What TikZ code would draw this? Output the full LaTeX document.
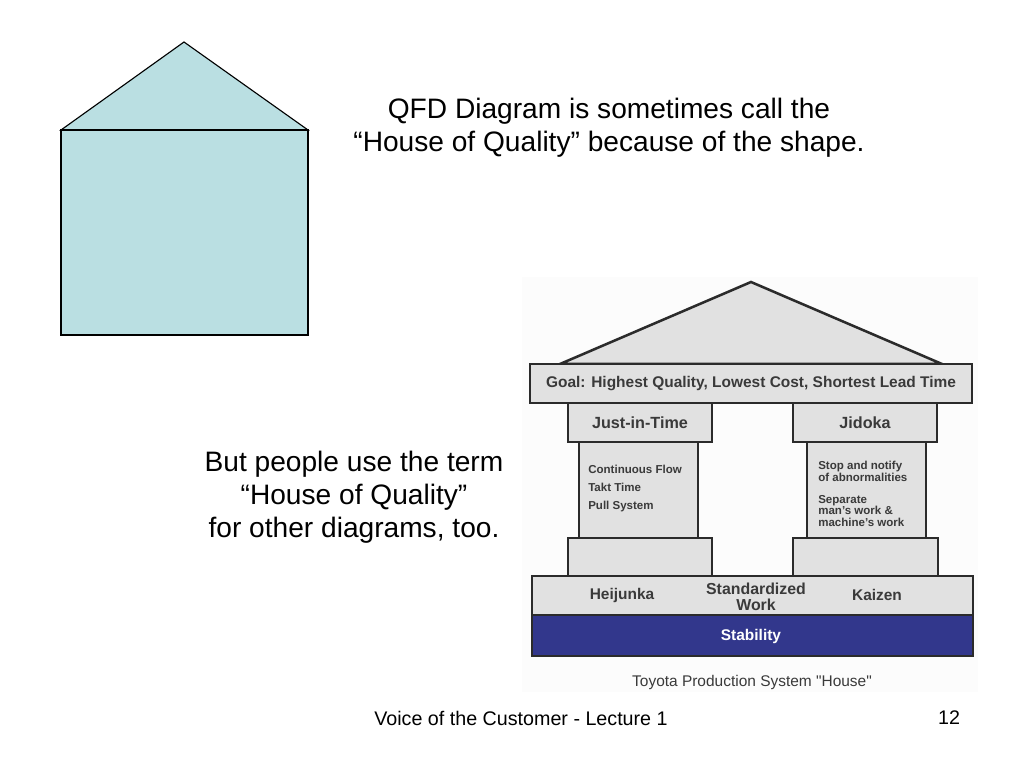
\documentclass[tikz,border=0pt]{standalone}
\usepackage{fontspec}
\setmainfont{Liberation Sans}

\definecolor{houseblue}{HTML}{BADFE2}
\definecolor{tpsgrey}{HTML}{E1E1E1}
\definecolor{tpsline}{HTML}{2B2B2B}
\definecolor{tpsblue}{HTML}{32378C}
\definecolor{tpstext}{HTML}{3A3A3A}

\tikzset{
  block/.style={draw=tpsline, fill=tpsgrey, line width=1.8pt, line join=miter},
  slide/.style={font=\fontsize{20}{23.5}\selectfont, align=center, inner sep=0pt},
  tps/.style={font=\bfseries\fontsize{11}{11.5}\selectfont, text=tpstext, align=center, inner sep=0pt},
  tpssmall/.style={font=\bfseries\fontsize{8.2}{8.4}\selectfont, text=tpstext, align=left, anchor=west, inner sep=0pt},
}

\begin{document}
\begin{tikzpicture}[x=0.025cm, y=-0.025cm]
    \useasboundingbox (0,0) rectangle (1024,768);

    % QFD house
    \draw[fill=houseblue, line width=0.8pt] (61,130) -- (184,42) -- (308,130) -- cycle;
    \draw[fill=houseblue, line width=0.8pt] (61,130) rectangle (308,335);

    % Slide texts
    \node[slide] (qfd) at (609,128) {QFD Diagram is sometimes call the\\“House of Quality” because of the shape.};
    \node[slide] (term) at (354,497) {But people use the term\\“House of Quality”\\for other diagrams, too.};

    % Toyota house
    \fill[white!99!black] (522,277) rectangle (978,692); % photo backdrop
    \draw[block] (560,364) -- (751,282) -- (942,364) -- cycle; % roof
    \draw[block] (530,364) rectangle (972,403); % goal
    \node[tps] (goal) at (751,384) {Goal: Highest Quality, Lowest Cost, Shortest Lead Time};

    % Pillars
    \draw[block] (568,403) rectangle (712,442);
    \draw[block] (793,403) rectangle (937,442);
    \draw[block] (579,442) rectangle (698,538);
    \draw[block] (807,442) rectangle (926,538);
    \draw[block] (568,538) rectangle (712,576);
    \draw[block] (793,538) rectangle (938,576);
    \node[tps, font=\bfseries\fontsize{11.5}{12}\selectfont] (jit) at (640,423) {Just-in-Time};
    \node[tps, font=\bfseries\fontsize{11.5}{12}\selectfont] (jidoka) at (865,423) {Jidoka};
    \node[tpssmall, font=\bfseries\fontsize{8.2}{12.8}\selectfont] (flow) at (588,489) {Continuous Flow\\Takt Time\\Pull System};
    \node[tpssmall] (stop) at (818,471) {Stop and notify\\of abnormalities};
    \node[tpssmall] (separate) at (818,511) {Separate\\man's work \&\\machine's work};

    % Foundation
    \draw[block] (532,576) rectangle (973,615);
    \draw[block, fill=tpsblue] (532,615) rectangle (973,656);
    \node[tps] (heijunka) at (622,595) {Heijunka};
    \node[tps, font=\bfseries\fontsize{11.3}{11.3}\selectfont] (stdwork) at (756,597) {Standardized\\Work};
    \node[tps] (kaizen) at (877,595) {Kaizen};
    \node[tps, text=white] (stability) at (751,636) {Stability};
    \node[tps, font=\fontsize{11}{12}\selectfont] (caption) at (752,682) {Toyota Production System \textquotedbl House\textquotedbl};

    % Footer
    \node[font=\fontsize{14}{16}\selectfont] (footer) at (521,718) {Voice of the Customer - Lecture 1};
    \node[font=\fontsize{14}{16}\selectfont] (page) at (949,718) {12};
\end{tikzpicture}
\end{document}
